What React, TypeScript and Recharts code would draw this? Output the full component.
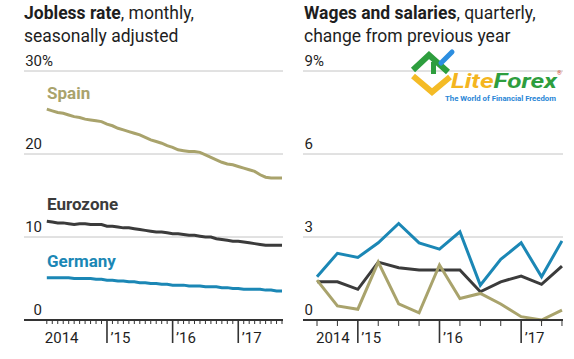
import React from "react";
import { LineChart, Line, XAxis, YAxis, CartesianGrid } from "recharts";

// ---------- data ----------
// Left panel: monthly jobless rate, m = months since Jan 2014 (1 = Feb 2014 ... 44 = Sep 2017)
const months: number[] = Array.from({ length: 44 }, (_, i) => i + 1);
const spain: number[] = [
  25.4, 25.2, 25.0, 24.9, 24.7, 24.5, 24.4, 24.2, 24.1, 24.0, 23.9,
  23.6, 23.4, 23.1, 22.9, 22.7, 22.5, 22.3, 22.0, 21.7, 21.5, 21.3, 21.0,
  20.8, 20.5, 20.4, 20.3, 20.3, 20.2, 19.9, 19.6, 19.3, 19.0, 18.8, 18.7,
  18.5, 18.3, 18.1, 17.9, 17.5, 17.2, 17.1, 17.1, 17.1,
];
const eurozone: number[] = [
  11.9, 11.8, 11.7, 11.7, 11.6, 11.5, 11.6, 11.6, 11.5, 11.5, 11.5,
  11.3, 11.3, 11.2, 11.1, 11.1, 11.0, 10.9, 10.8, 10.7, 10.6, 10.6, 10.5,
  10.4, 10.4, 10.3, 10.2, 10.2, 10.1, 10.0, 10.0, 9.8, 9.7, 9.6, 9.5,
  9.5, 9.4, 9.3, 9.2, 9.1, 9.0, 9.0, 9.0, 9.0,
];
const germany: number[] = [
  5.1, 5.1, 5.1, 5.1, 5.1, 5.0, 5.0, 5.0, 5.0, 4.9, 4.9,
  4.8, 4.8, 4.7, 4.7, 4.6, 4.6, 4.5, 4.5, 4.4, 4.4, 4.3, 4.3,
  4.2, 4.2, 4.2, 4.1, 4.1, 4.1, 4.0, 4.0, 4.0, 3.9, 3.9, 3.8,
  3.8, 3.7, 3.7, 3.7, 3.7, 3.6, 3.6, 3.5, 3.5,
];
const leftYTicks: number[] = [0, 10, 20, 30];
const leftXLabels: Record<number, string> = { 1: "2014", 12: "\u201915", 24: "\u201916", 36: "\u201917" };
const leftMajor: number[] = [12, 24, 36];

// Right panel: quarterly wage growth, q = quarter index (0 = Q3 2014 ... 12 = Q3 2017)
const quarters: number[] = Array.from({ length: 13 }, (_, i) => i);
const wagesGermany: number[] = [1.56, 2.41, 2.26, 2.79, 3.49, 2.79, 2.56, 3.19, 1.26, 2.19, 2.79, 1.56, 2.86];
const wagesEurozone: number[] = [1.38, 1.38, 1.11, 2.09, 1.89, 1.81, 1.81, 1.81, 1.02, 1.38, 1.59, 1.29, 1.95];
const wagesSpain: number[] = [1.44, 0.51, 0.39, 2.09, 0.58, 0.26, 1.99, 0.78, 0.96, 0.58, 0.12, 0.0, 0.36];
const rightYTicks: number[] = [0, 3, 6, 9];
const rightXLabels: Record<number, string> = { 0: "2014", 2: "\u201915", 6: "\u201916", 10: "\u201917" };
const rightMajor: number[] = [2, 6, 10];

// ---------- styles ----------
const FONT = "Roboto, 'Liberation Sans', Arial, sans-serif";
const OLIVE = "#a9a36c";
const DARK = "#3b3b3b";
const BLUE = "#1b87b5";
const GRID = "#c4c4c4";
const TEXT = "#1e1e1e";
const AXIS_Y = 320;

const leftData = months.map((m, i) => ({ m, spain: spain[i], eurozone: eurozone[i], germany: germany[i] }));
const rightData = quarters.map((q, i) => ({
  q,
  germany: wagesGermany[i],
  eurozone: wagesEurozone[i],
  spain: wagesSpain[i],
}));

function makeYTick(rightX: number, top: number) {
  return (props: any) => {
    const { y, payload } = props;
    const v = payload.value;
    return (
      <g>
        <text x={rightX} y={y - 5} textAnchor="end" fontFamily={FONT} fontSize={15} fill={TEXT}>
          {v}
        </text>
        {v === top && (
          <text x={rightX} y={y - 5} textAnchor="start" fontFamily={FONT} fontSize={15} fill={TEXT}>
            %
          </text>
        )}
      </g>
    );
  };
}

function makeXTick(labels: Record<number, string>, major: number[], minorLen: number, firstOffset: number) {
  return (props: any) => {
    const { x, payload } = props;
    const v = payload.value;
    const isMajor = major.includes(v);
    const label = labels[v];
    return (
      <g>
        <line
          x1={x}
          x2={x}
          y1={AXIS_Y}
          y2={AXIS_Y + (isMajor ? 23 : minorLen)}
          stroke="#333"
          strokeWidth={isMajor ? 1.6 : 1}
        />
        {label && (
          <text
            x={isMajor ? x + 3.5 : x + firstOffset}
            y={342.5}
            textAnchor="start"
            fontFamily={FONT}
            fontSize={15}
            fill={TEXT}
          >
            {label}
          </text>
        )}
      </g>
    );
  };
}

const LeftChart = () => (
  <LineChart
    width={290}
    height={359}
    data={leftData}
    margin={{ top: 71, right: 7, bottom: 29, left: 14 }}
    style={{ position: "absolute", left: 0, top: 0 }}
  >
    <CartesianGrid vertical={false} stroke={GRID} strokeWidth={1} />
    <XAxis
      dataKey="m"
      type="number"
      domain={[-3.17, 44.18]}
      allowDataOverflow
      ticks={months}
      interval={0}
      height={10}
      tickLine={false}
      tickSize={0}
      axisLine={{ stroke: "#333", strokeWidth: 1.8 }}
      tick={makeXTick(leftXLabels, leftMajor, 4, -2)}
    />
    <YAxis
      type="number"
      domain={[0, 30]}
      ticks={leftYTicks}
      interval={0}
      width={10}
      axisLine={false}
      tickLine={false}
      tick={makeYTick(42, 30)}
    />
    <Line dataKey="spain" stroke={OLIVE} strokeWidth={3} dot={false} type="linear" isAnimationActive={false} />
    <Line dataKey="eurozone" stroke={DARK} strokeWidth={3} dot={false} type="linear" isAnimationActive={false} />
    <Line dataKey="germany" stroke={BLUE} strokeWidth={3} dot={false} type="linear" isAnimationActive={false} />
  </LineChart>
);

const RightChart = () => (
  <LineChart
    width={284}
    height={359}
    data={rightData}
    margin={{ top: 71, right: 11, bottom: 29, left: 3 }}
    style={{ position: "absolute", left: 290, top: 0 }}
  >
    <CartesianGrid vertical={false} stroke={GRID} strokeWidth={1} />
    <XAxis
      dataKey="q"
      type="number"
      domain={[-0.686, 12.05]}
      allowDataOverflow
      ticks={quarters}
      interval={0}
      height={10}
      tickLine={false}
      tickSize={0}
      axisLine={{ stroke: "#333", strokeWidth: 1.8 }}
      tick={makeXTick(rightXLabels, rightMajor, 6, -1)}
    />
    <YAxis
      type="number"
      domain={[0, 9]}
      ticks={rightYTicks}
      interval={0}
      width={10}
      axisLine={false}
      tickLine={false}
      tick={makeYTick(313 - 290, 9)}
    />
    <Line dataKey="germany" stroke={BLUE} strokeWidth={3} dot={false} type="linear" isAnimationActive={false} />
    <Line dataKey="eurozone" stroke={DARK} strokeWidth={3} dot={false} type="linear" isAnimationActive={false} />
    <Line dataKey="spain" stroke={OLIVE} strokeWidth={3} dot={false} type="linear" isAnimationActive={false} />
  </LineChart>
);

const Overlay = () => (
  <svg width={574} height={359} style={{ position: "absolute", left: 0, top: 0, pointerEvents: "none" }}>
    {/* titles */}
    <text x={24} y={18.5} fontFamily={FONT} fontSize={17.5} fill={TEXT}>
      <tspan fontWeight="bold">Jobless rate</tspan>
      <tspan>, monthly,</tspan>
    </text>
    <text x={24} y={41.5} fontFamily={FONT} fontSize={17.5} fill={TEXT}>
      seasonally adjusted
    </text>
    <text x={304} y={18.5} fontFamily={FONT} fontSize={17.5} fill={TEXT}>
      <tspan fontWeight="bold">Wages and salaries</tspan>
      <tspan>, quarterly,</tspan>
    </text>
    <text x={304} y={41.5} fontFamily={FONT} fontSize={17.5} fill={TEXT}>
      change from previous year
    </text>
    {/* series labels */}
    <text x={47} y={99} fontFamily={FONT} fontSize={17} fontWeight="bold" fill={OLIVE}>
      Spain
    </text>
    <text x={47} y={210} fontFamily={FONT} fontSize={17} fontWeight="bold" fill={DARK}>
      Eurozone
    </text>
    <text x={47} y={267} fontFamily={FONT} fontSize={17} fontWeight="bold" fill={BLUE}>
      Germany
    </text>
    {/* watermark logo */}
    <g>
      <polyline points="413,76 432,92 450,77" fill="none" stroke="#f4bb26" strokeWidth={6} strokeLinejoin="miter" />
      <polyline points="413,70 429,55 448,72" fill="none" stroke="#2e9e3e" strokeWidth={6} strokeLinejoin="miter" />
      <rect x={431} y={62} width={5} height={12} fill="#2e9e3e" />
      <line x1={441} y1={63} x2={452} y2={52} stroke="#2c8ee0" strokeWidth={5} strokeLinecap="round" />
      <text
        x={451}
        y={87.5}
        fontFamily={FONT}
        fontSize={21}
        fontWeight="bold"
        fontStyle="italic"
        textLength={106}
        lengthAdjust="spacingAndGlyphs"
      >
        <tspan fill="#f4b520">Lite</tspan>
        <tspan fill="#2e9e3e">Forex</tspan>
      </text>
      <text x={557} y={75} fontFamily={FONT} fontSize={6} fill="#d23a2a">
        ®
      </text>
      <text
        x={445}
        y={100.5}
        fontFamily={FONT}
        fontSize={8}
        fontWeight="bold"
        fill="#2a86d6"
        textLength={111}
        lengthAdjust="spacingAndGlyphs"
      >
        The World of Financial Freedom
      </text>
    </g>
  </svg>
);

export default function App() {
  return (
    <div style={{ position: "absolute", left: 0, top: 0, width: 574, height: 359, background: "#fff", overflow: "hidden" }}>
      <LeftChart />
      <RightChart />
      <Overlay />
    </div>
  );
}
